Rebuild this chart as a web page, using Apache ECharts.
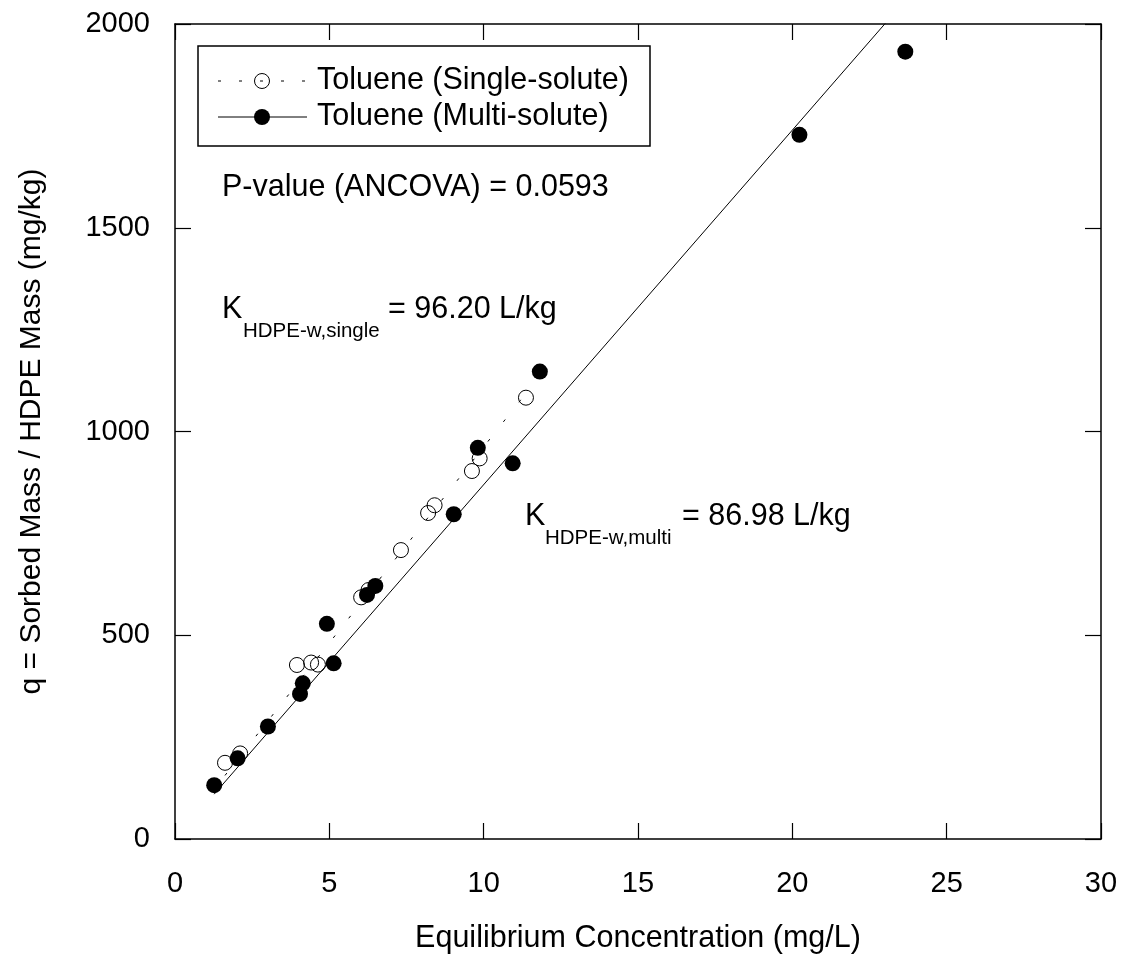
<!DOCTYPE html>
<html>
<head>
<meta charset="utf-8">
<script src="https://cdn.jsdelivr.net/npm/echarts@6/dist/echarts.min.js"></script>
<style>
  html, body { margin: 0; padding: 0; background: #fff; }
  #chart { width: 1123px; height: 979px; }
</style>
</head>
<body>
<div id="chart"></div>
<script>
// single-solute (open circles)
const singleX = [1.62, 2.11, 3.95, 4.41, 4.63, 6.03, 6.27, 7.32, 8.20, 8.41, 9.62, 9.87, 11.37];
const singleY = [187, 210, 427, 433, 428, 593, 611, 709, 800, 819, 903, 934, 1083];
// multi-solute (filled circles)
const multiX = [1.27, 2.03, 3.01, 4.05, 4.14, 4.92, 5.14, 6.22, 6.49, 9.03, 9.81, 10.94, 11.82, 20.23, 23.66];
const multiY = [132, 198, 276, 356, 382, 528, 431, 599, 621, 797, 960, 922, 1147, 1728, 1932];
// fitted lines (end points)
const singleFitX = [1.62, 11.37];
const singleFitY = [156, 1094];
const multiFitX = [1.27, 23.66];
const multiFitY = [110, 2058];

const xTicks = [0, 5, 10, 15, 20, 25, 30];
const yTicks = [0, 500, 1000, 1500, 2000];

const FONT = "'Liberation Sans', Arial, sans-serif";
const TXT = "30.5px " + FONT;
const zip = (xs, ys) => xs.map((x, i) => [x, ys[i]]);

const chart = echarts.init(document.getElementById("chart"), null, { renderer: "canvas" });

const axisBase = {
  type: "value",
  axisLine: { show: true, onZero: false, lineStyle: { color: "#000", width: 1.5 } },
  axisTick: { show: true, inside: true, length: 16, lineStyle: { color: "#000", width: 1.2 } },
  splitLine: { show: false },
};

chart.setOption({
  animation: false,
  backgroundColor: "#fff",
  textStyle: { fontFamily: FONT, color: "#000" },
  grid: { left: 175, right: 22, top: 24, bottom: 140 },
  xAxis: [
    {
      ...axisBase,
      position: "bottom",
      min: xTicks[0],
      max: xTicks[xTicks.length - 1],
      interval: 5,
      axisLabel: { fontSize: 29, color: "#000", margin: 30, fontFamily: FONT, formatter: (v) => String(v) },
      name: "Equilibrium Concentration (mg/L)",
      nameLocation: "middle",
      nameGap: 84,
      nameTextStyle: { fontSize: 30.5, color: "#000", fontFamily: FONT },
    },
    {
      ...axisBase,
      position: "top",
      min: xTicks[0],
      max: xTicks[xTicks.length - 1],
      interval: 5,
      axisLabel: { show: false },
    },
  ],
  yAxis: [
    {
      ...axisBase,
      position: "left",
      min: yTicks[0],
      max: yTicks[yTicks.length - 1],
      interval: 500,
      axisLabel: { fontSize: 29, color: "#000", margin: 25, fontFamily: FONT, formatter: (v) => String(v) },
      name: "q = Sorbed Mass / HDPE Mass (mg/kg)",
      nameLocation: "middle",
      nameGap: 128,
      nameRotate: 90,
      nameTextStyle: { fontSize: 30, color: "#000", fontFamily: FONT },
    },
    {
      ...axisBase,
      position: "right",
      min: yTicks[0],
      max: yTicks[yTicks.length - 1],
      interval: 500,
      axisLabel: { show: false },
    },
  ],
  series: [
    {
      name: "Single fit",
      type: "line",
      data: zip(singleFitX, singleFitY),
      showSymbol: false,
      symbol: "none",
      lineStyle: { color: "#000", width: 1, type: [3, 22] },
      z: 1,
    },
    {
      name: "Multi fit",
      type: "line",
      data: zip(multiFitX, multiFitY),
      showSymbol: false,
      symbol: "none",
      clip: true,
      lineStyle: { color: "#000", width: 1 },
      z: 1,
    },
    {
      name: "Toluene (Single-solute)",
      type: "scatter",
      data: zip(singleX, singleY),
      symbol: "circle",
      symbolSize: 15,
      itemStyle: { color: "rgba(0,0,0,0)", borderColor: "#000", borderWidth: 1, opacity: 1 },
      z: 2,
    },
    {
      name: "Toluene (Multi-solute)",
      type: "scatter",
      data: zip(multiX, multiY),
      symbol: "circle",
      symbolSize: 16,
      itemStyle: { color: "#000", opacity: 1 },
      z: 3,
    },
  ],
  graphic: [
    // legend box
    { type: "rect", shape: { x: 198, y: 46, width: 452, height: 100 },
      style: { fill: "#fff", stroke: "#000", lineWidth: 1.5 }, z: 10 },
    { type: "line", shape: { x1: 218, y1: 81, x2: 307, y2: 81 },
      style: { stroke: "#000", lineWidth: 1, lineDash: [3, 18] }, z: 11 },
    { type: "circle", shape: { cx: 262, cy: 81, r: 7.5 },
      style: { fill: "rgba(0,0,0,0)", stroke: "#000", lineWidth: 1 }, z: 12 },
    { type: "text", x: 317, y: 81,
      style: { text: "Toluene (Single-solute)", font: TXT, fill: "#000", verticalAlign: "middle" }, z: 12 },
    { type: "line", shape: { x1: 218, y1: 117, x2: 307, y2: 117 },
      style: { stroke: "#000", lineWidth: 1 }, z: 11 },
    { type: "circle", shape: { cx: 262, cy: 117, r: 8 },
      style: { fill: "#000" }, z: 12 },
    { type: "text", x: 317, y: 117,
      style: { text: "Toluene (Multi-solute)", font: TXT, fill: "#000", verticalAlign: "middle" }, z: 12 },
    // annotations
    { type: "text", x: 222, y: 188,
      style: { text: "P-value (ANCOVA) = 0.0593", font: TXT, fill: "#000", verticalAlign: "middle" }, z: 12 },
    { type: "text", x: 222, y: 310,
      style: { text: "K", font: TXT, fill: "#000", verticalAlign: "middle" }, z: 12 },
    { type: "text", x: 243, y: 331,
      style: { text: "HDPE-w,single", font: "20.5px " + FONT, fill: "#000", verticalAlign: "middle" }, z: 12 },
    { type: "text", x: 388, y: 310,
      style: { text: "= 96.20 L/kg", font: TXT, fill: "#000", verticalAlign: "middle" }, z: 12 },
    { type: "text", x: 525, y: 517,
      style: { text: "K", font: TXT, fill: "#000", verticalAlign: "middle" }, z: 12 },
    { type: "text", x: 545, y: 538,
      style: { text: "HDPE-w,multi", font: "20.5px " + FONT, fill: "#000", verticalAlign: "middle" }, z: 12 },
    { type: "text", x: 682, y: 517,
      style: { text: "= 86.98 L/kg", font: TXT, fill: "#000", verticalAlign: "middle" }, z: 12 },
  ],
});
</script>
</body>
</html>
